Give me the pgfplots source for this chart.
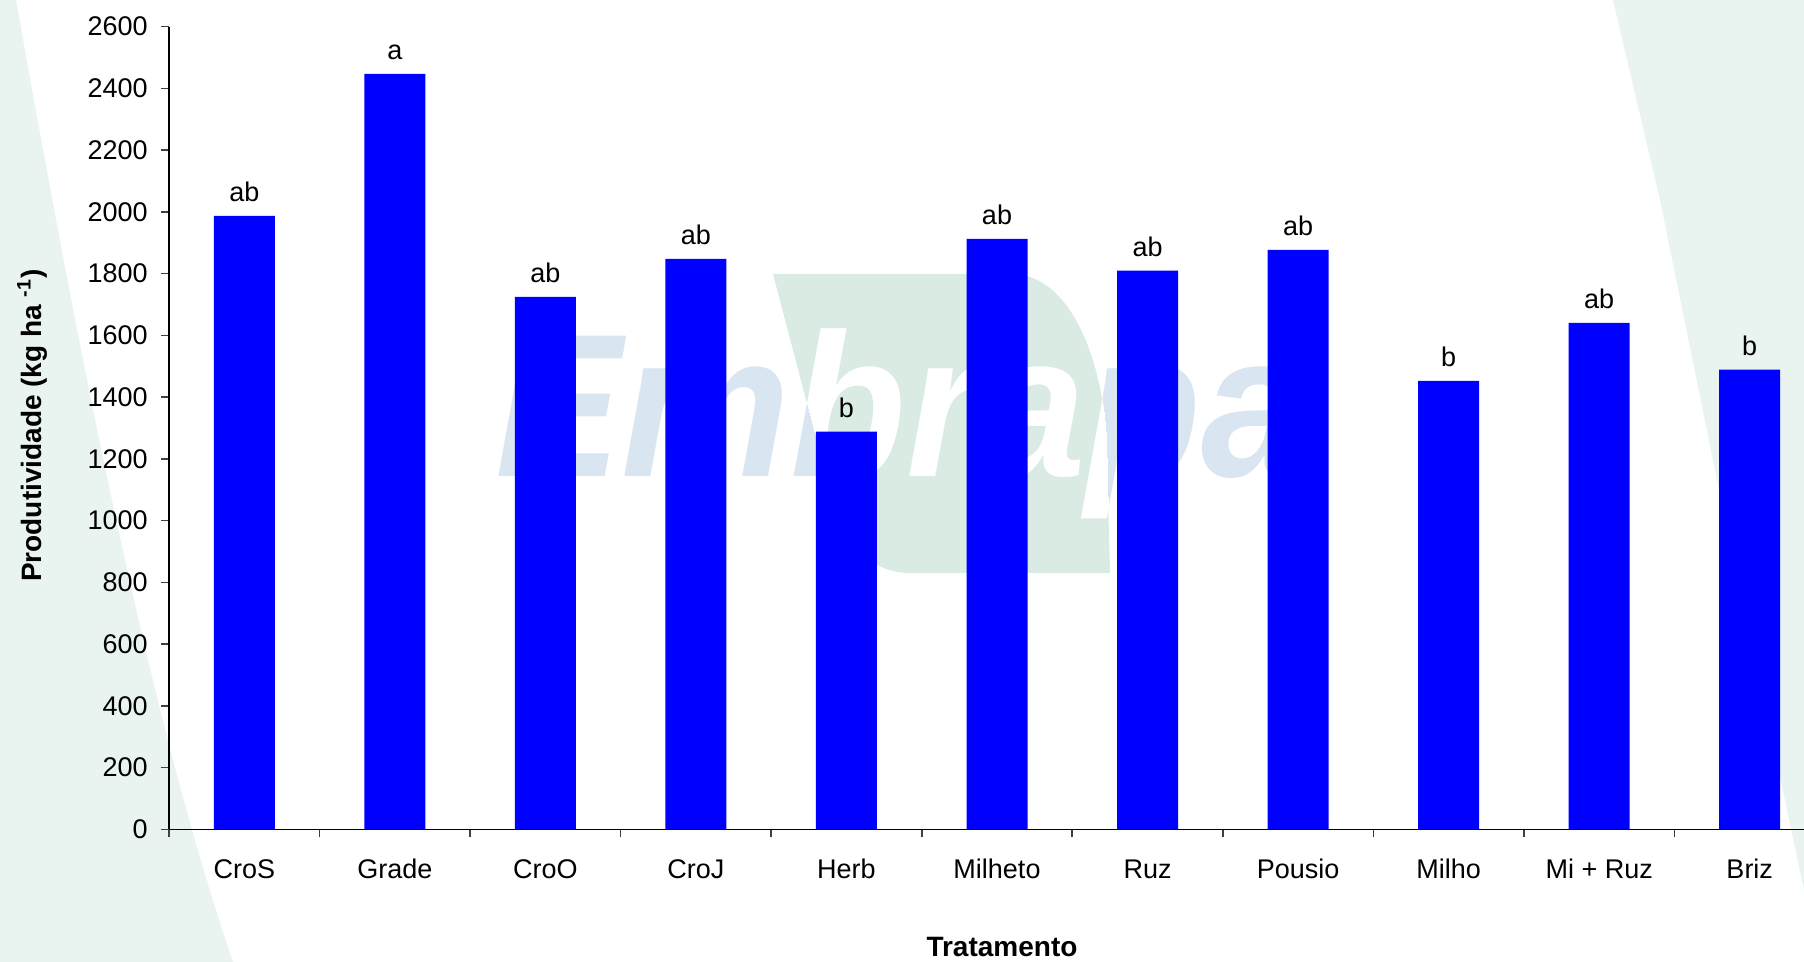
\documentclass[border=0pt]{standalone}
\usepackage{fontspec}
\setmainfont{Liberation Sans}
\usepackage{pgfplots}
\usepackage{pgfplotstable}
\pgfplotsset{compat=1.18}

\definecolor{bgmint}{RGB}{233,243,240}
\definecolor{wmgreen}{RGB}{217,235,227}
\definecolor{wmblue}{RGB}{217,229,240}
\definecolor{barblue}{RGB}{0,0,255}

\pgfplotstableread{
x label value
0 ab 1987
1 a 2447
2 ab 1725
3 ab 1848
4 b 1288
5 ab 1913
6 ab 1810
7 ab 1877
8 b 1453
9 ab 1641
10 b 1489
}\datatable

\begin{document}
\begin{tikzpicture}
\useasboundingbox (0,0) rectangle (902pt,481pt);
\clip (0,0) rectangle (902pt,481pt);
\begin{scope}[x=0.5pt,y=0.5pt]
\fill[bgmint] (0,962) -- (16,962) .. controls (80,602) and (150,242) .. (233,0) -- (0,0) -- cycle;
\fill[bgmint] (1613,962) -- (1660,762) -- (1717,482) -- (1804,72) -- (1804,962) -- cycle;
% watermark (behind the bars)
\fill[wmgreen] (773,688) -- (1012,688) .. controls (1070,688) and (1107,600) .. (1107,502) -- (1110,389) -- (909,389) .. controls (860,389) and (835,440) .. (831,467) -- cycle;
\node[text=wmblue, anchor=base west, inner sep=0pt, xscale=0.93, font=\fontsize{102}{102}\selectfont\bfseries\itshape] at (495,485) {Embrapa};
\begin{scope}
\clip (773,688) -- (1012,688) .. controls (1070,688) and (1107,600) .. (1107,502) -- (1110,389) -- (909,389) .. controls (860,389) and (835,440) .. (831,467) -- cycle;
\node[text=white, anchor=base west, inner sep=0pt, xscale=0.93, font=\fontsize{102}{102}\selectfont\bfseries\itshape] at (495,485) {Embrapa};
\end{scope}
\end{scope}
\begin{axis}[
  at={(84.5pt,66.3pt)}, anchor=south west,
  width=828pt, height=401.35pt, scale only axis,
  axis lines*=left,
  axis line style={line width=0.8pt, black},
  ybar, bar width=30.5pt,
  xmin=-0.5, xmax=10.5, ymin=0, ymax=2600,
  ytick={0,200,...,2600},
  xtick={-0.5,0.5,...,10.5},
  xticklabels={CroS,Grade,CroO,CroJ,Herb,Milheto,Ruz,Pousio,Milho,Mi + Ruz,Briz},
  x tick label as interval,
  tick align=outside,
  major tick length=4pt,
  tick style={line width=0.8pt, black!75},
  /pgf/number format/assume math mode=true,
  /pgf/number format/1000 sep={},
  ticklabel style={font=\fontsize{13.5}{16}\selectfont, inner sep=0pt},
  yticklabel style={anchor=east, xshift=-6.5pt},
  xticklabel style={anchor=base, yshift=-20.5pt},
  xlabel={\textbf{Tratamento}},
  ylabel={\textbf{Produtividade (kg ha \textsuperscript{-1})}},
  label style={font=\fontsize{14}{16}\selectfont},
  xlabel style={at={(axis description cs:0.503,-0.146)}, anchor=center},
  ylabel style={at={(axis description cs:-0.0827,0.503)}, anchor=center},
  nodes near coords,
  point meta=explicit symbolic,
  every node near coord/.append style={anchor=base, inner sep=0pt, yshift=7pt, font=\fontsize{13.5}{16}\selectfont, text=black},
]
\addplot[fill=barblue, draw=none] table[x=x, y=value, meta=label] {\datatable};
\end{axis}
\end{tikzpicture}
\end{document}
